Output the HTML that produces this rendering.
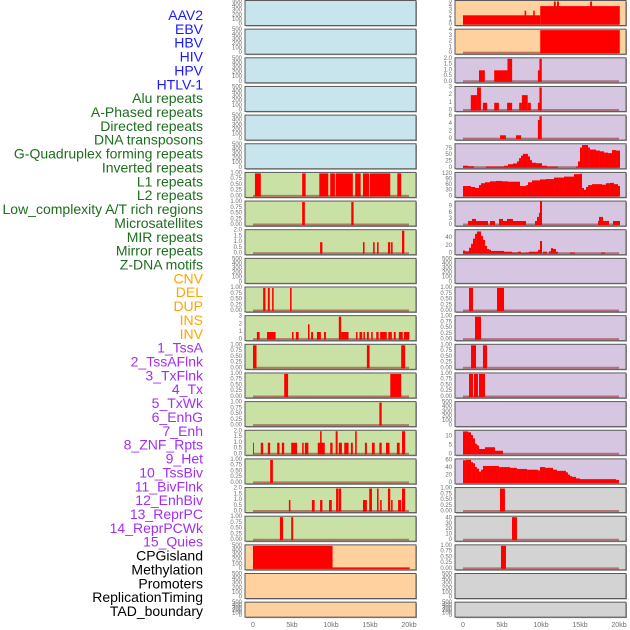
<!DOCTYPE html>
<html><head><meta charset="utf-8">
<style>
html,body{margin:0;padding:0;background:#fff;}
svg{display:block;font-family:"Liberation Sans",sans-serif;}
</style></head>
<body>
<svg id="chart" width="630" height="630" viewBox="0 0 630 630" xmlns="http://www.w3.org/2000/svg">
<g id="labels"></g>
<g id="panels"></g>
<g id="xaxes"></g>
</svg>
<script>
// ---------- labels ----------
const trackLabels = ["AAV2","EBV","HBV","HIV","HPV","HTLV-1","Alu repeats","A-Phased repeats","Directed repeats","DNA transposons","G-Quadruplex forming repeats","Inverted repeats","L1 repeats","L2 repeats","Low_complexity A/T rich regions","Microsatellites","MIR repeats","Mirror repeats","Z-DNA motifs","CNV","DEL","DUP","INS","INV","1_TssA","2_TssAFlnk","3_TxFlnk","4_Tx","5_TxWk","6_EnhG","7_Enh","8_ZNF_Rpts","9_Het","10_TssBiv","11_BivFlnk","12_EnhBiv","13_ReprPC","14_ReprPCWk","15_Quies","CPGisland","Methylation","Promoters","ReplicationTiming","TAD_boundary"];
const labelGroups = ["blue","blue","blue","blue","blue","blue","green","green","green","green","green","green","green","green","green","green","green","green","green","orange","orange","orange","orange","orange","purple","purple","purple","purple","purple","purple","purple","purple","purple","purple","purple","purple","purple","purple","purple","black","black","black","black","black"];

// ---------- tick arrays ----------
const t500=[0,100,200,300,400,500], t1=[0,0.25,0.5,0.75,1], t2=[0,0.5,1,1.5,2], t3=[0,1,2,3];
const t5=[0,1,2,3,4,5], t4=[0,1,2,3,4], t6=[0,2,4,6], tGQ=[0,25,50,75], tL1=[0,30,60,90,120];
const tLC=[0,3,6,9], tMIR=[0,20,40], tZNF=[0,5,10], tHET=[0,20,40,60], tRP=[0,10,20,30,40];
const xTicks=[0,5,10,15,20], xTickLabels=["0","5kb","10kb","15kb","20kb"];

// ---------- left column data: [startKb, endKb, value] ----------
const L6=[[0.25,1,1],[6.3,6.75,1],[8.5,9.65,1],[9.9,10.5,1],[10.6,12.8,1],[13.1,13.8,1],[14.1,14.9,1],[15.0,17.6,1],[18.5,19.0,1]];
const L7=[[6.3,6.65,1],[12.6,12.9,1]];
const L8=[[8.6,8.9,1],[14.1,14.3,1],[15.4,15.6,1],[15.9,16.1,1],[17.3,17.6,1],[17.7,17.9,1],[19.1,19.4,2]];
const L10=[[1.3,1.6,1],[1.9,2.15,1],[2.45,2.65,1],[4.75,4.95,1]];
const L11=[[0.5,0.85,1],[1.8,2.9,1],[5.0,5.2,1],[5.5,5.85,1],[7.05,7.25,2],[7.45,7.7,1],[8.2,8.7,1],[9.1,9.35,1],[11.0,11.3,3],[11.3,12.25,1],[13.2,13.4,1],[13.65,14.0,1],[14.15,14.35,1],[14.6,14.85,1],[15.15,15.35,1],[15.8,16.1,1],[16.3,17.15,1],[17.35,17.8,1],[18.05,18.3,1],[18.7,19.2,1],[19.35,20.05,1]];
const L12=[[0,0.45,1],[14.6,14.95,1],[19.0,19.5,1]];
const L13=[[4.0,4.5,1],[17.6,19.0,1]];
const L14=[[16.2,16.5,1]];
const L15=[[0,0.12,1],[1.0,1.3,1],[1.9,2.2,1],[3.1,3.4,1],[3.7,4.0,1],[4.9,5.65,1],[6.3,6.5,1],[6.65,7.1,1],[8.3,9.2,1],[8.6,8.8,2],[9.9,10.2,1],[10.6,10.85,2],[11.0,11.4,1],[11.7,12.25,1],[12.55,12.8,1],[13.1,13.3,2],[14.35,14.6,1],[15.25,15.6,1],[16.2,16.5,1],[17.05,17.5,1],[18.45,18.8,1],[19.1,19.5,2]];
const L16=[[2.2,2.55,1]];
const L17=[[4.6,4.8,1],[7.55,7.9,1],[8.6,8.9,1],[9.75,10.1,1],[10.65,10.95,2],[11.0,11.3,2],[14.1,14.6,1],[14.9,15.25,2],[15.9,16.1,2],[16.3,16.5,1],[17.3,17.6,2],[17.7,17.9,1],[18.6,19.0,1],[19.1,19.5,2]];
const L18=[[3.45,3.85,1],[4.9,5.15,1]];
const L19=[[0,10.2,500],[10.2,20.1,30]];

// ---------- right column data ----------
const R0=[[0,9.9,2],[7.9,8.1,3],[9.0,9.2,3],[9.9,20.1,4],[11.65,11.9,5],[12.05,12.3,5],[16.3,16.55,5]];
const R1=[[9.9,20.1,4]];
const R2=[[2.05,2.8,1],[4.0,5.7,1],[5.7,6.3,2],[9.6,9.9,1],[9.8,10.1,2]];
const R3=[[1.0,1.8,2],[1.8,2.3,3],[2.55,3.1,1],[4.0,4.6,1],[5.65,6.3,1],[7.2,7.55,1],[7.55,8.3,2],[8.3,8.7,1],[9.6,9.85,1],[9.8,10.1,3]];
const R4=[[4.75,5.5,1],[6.8,7.45,1],[9.6,9.85,5],[9.8,10.1,6]];
const gqStarts=[0,0.64,1.41,2.95,5.26,5.77,6.41,6.92,7.18,7.44,7.69,8.33,8.59,8.85,9.36,10.13,10.77,12.18,14.49,14.74,15.0,15.26,15.51,16.03,16.28,17.05,17.56,18.08,18.59,19.10,19.62];
const gqValues=[8,6,0,5,8,14,17,25,38,48,55,45,30,20,18,8,5,0,5,25,80,90,90,80,72,68,65,60,58,70,68];
const l1Starts=[0,1.03,1.54,2.05,2.31,2.82,3.46,4.23,5.0,5.77,7.31,8.08,8.33,8.85,9.87,10.64,11.67,12.95,14.23,15.0,15.26,15.51,15.77,16.03,16.54,17.82,18.33,18.85,19.36,19.87];
const l1Values=[55,50,45,60,70,75,80,82,80,78,55,60,75,85,90,92,100,105,118,120,45,35,50,60,65,62,70,72,65,55];
const lcStarts=[0,0.64,1.15,1.67,3.21,3.46,4.10,4.62,5.13,5.64,6.41,8.08,9.23,9.49,9.74,9.87,10.13,17.31,17.44,17.95,18.72,19.23];
const lcValues=[0,2,3,2,0,2,0,3,2,3,2,0,2,4,6,12,0,2,4,2,0,2];
const mirStarts=[0,0.26,0.77,1.03,1.28,1.54,1.79,2.31,2.56,2.82,3.08,3.33,3.59,4.23,5.26,6.28,7.05,7.44,7.95,8.46,9.62,9.87,10.13,10.26,10.77,11.03,11.28,11.54,11.92,12.18,13.72,14.36,17.69,18.21];
const mirValues=[8,6,15,25,38,50,56,45,35,20,12,10,7,7,5,3,5,2,3,5,10,32,0,5,0,6,14,12,5,0,3,0,3,0];
const R10=[[0.77,1.28,1],[4.36,5.26,1]];
const R11=[[1.54,2.31,1]];
const R12=[[1.03,1.67,1],[2.56,3.08,1]];
const R13=[[0.77,1.28,1],[1.41,1.92,1],[2.05,2.82,1]];
const znfStarts=[0,0.64,1.03,1.28,1.54,1.79,2.05,2.82,4.10,5.13];
const znfValues=[13,12.5,11,9,6,5,3,4,2,0];
const hetStarts=[0,0.38,1.03,1.28,1.54,1.79,2.05,2.31,2.56,4.62,6.03,6.92,8.21,9.62,9.87,10.51,11.54,12.05,13.21,13.46,13.72,13.97,14.49,15.0,19.62];
const hetValues=[60,61,55,52,42,38,30,35,45,42,40,37,35,33,42,40,35,32,28,22,18,16,12,10,8];
const R17=[[4.74,5.38,1]];
const R18=[[6.28,6.92,42]];
const R19=[[4.87,5.51,1]];

function steps(starts, values, end){
  const out=[];
  for(let i=0;i<starts.length;i++){
    const e = i+1<starts.length ? starts[i+1] : end;
    out.push([starts[i], e, values[i]]);
  }
  return out;
}

const BLUE="#c8e4ec", GREEN="#c9e1a4", PEACH="#ffd19f", LAV="#d7c6e2", GRAY="#d3d3d3";
// layout: [col,row,bg,ymax,ticks,decimals,data]
const layout=[
 [0,0,BLUE,500,t500,0,null],[0,1,BLUE,500,t500,0,null],[0,2,BLUE,500,t500,0,null],
 [0,3,BLUE,500,t500,0,null],[0,4,BLUE,500,t500,0,null],[0,5,BLUE,500,t500,0,null],
 [0,6,GREEN,1,t1,2,L6],[0,7,GREEN,1,t1,2,L7],[0,8,GREEN,2,t2,1,L8],[0,9,GREEN,500,t500,0,null],
 [0,10,GREEN,1,t1,2,L10],[0,11,GREEN,3,t3,0,L11],[0,12,GREEN,1,t1,2,L12],[0,13,GREEN,1,t1,2,L13],
 [0,14,GREEN,1,t1,2,L14],[0,15,GREEN,2,t2,1,L15],[0,16,GREEN,1,t1,2,L16],[0,17,GREEN,2,t2,1,L17],
 [0,18,GREEN,1,t1,2,L18],[0,19,PEACH,500,t500,0,L19],[0,20,PEACH,500,t500,0,null],[0,21,PEACH,500,t500,0,null],
 [1,0,PEACH,5,t5,0,R0],[1,1,PEACH,4,t4,0,R1],[1,2,LAV,2,t2,1,R2],[1,3,LAV,3,t3,0,R3],[1,4,LAV,6,t6,0,R4],
 [1,5,LAV,91,tGQ,0,steps(gqStarts,gqValues,20.13)],[1,6,LAV,122,tL1,0,steps(l1Starts,l1Values,20.13)],
 [1,7,LAV,11.3,tLC,0,steps(lcStarts,lcValues,20.13)],[1,8,LAV,58,tMIR,0,steps(mirStarts,mirValues,20.0)],
 [1,9,LAV,500,t500,0,null],[1,10,LAV,1,t1,2,R10],[1,11,LAV,1,t1,2,R11],[1,12,LAV,1,t1,2,R12],[1,13,LAV,1,t1,2,R13],
 [1,14,LAV,500,t500,0,null],[1,15,LAV,13.1,tZNF,0,steps(znfStarts,znfValues,20.0)],
 [1,16,LAV,61,tHET,0,steps(hetStarts,hetValues,20.0)],[1,17,GRAY,1,t1,2,R17],[1,18,GRAY,42,tRP,0,R18],
 [1,19,GRAY,1,t1,2,R19],[1,20,GRAY,500,t500,0,null],[1,21,GRAY,500,t500,0,null]
];

const NS="http://www.w3.org/2000/svg";
function mk(tag, attrs, parent){
  const e=document.createElementNS(NS,tag);
  for(const k in attrs) e.setAttribute(k, attrs[k]);
  parent.appendChild(e); return e;
}
const colX0=[253,463], pxPerKb=7.8, boxL=[245,455], boxW=171;
function xScale(col,kb){ return colX0[col]+kb*pxPerKb; }

// labels
const labelColors={blue:"#1a1aff",green:"#1d6e1d",orange:"#ffa500",purple:"#a22ff0",black:"#000"};
const lg=document.getElementById('labels');
// 44 labels? keep only the 35 visible positions (uses whole list spacing)
const visible=["AAV2","EBV","HBV","HIV","HPV","HTLV-1","Alu repeats","A-Phased repeats","Directed repeats","DNA transposons","G-Quadruplex forming repeats","Inverted repeats","L1 repeats","L2 repeats","Low_complexity A/T rich regions","Microsatellites","MIR repeats","Mirror repeats","Z-DNA motifs","CNV","DEL","DUP","INS","INV","1_TssA","2_TssAFlnk","3_TxFlnk","4_Tx","5_TxWk","6_EnhG","7_Enh","8_ZNF_Rpts","9_Het","10_TssBiv","11_BivFlnk","12_EnhBiv","13_ReprPC","14_ReprPCWk","15_Quies","CPGisland","Methylation","Promoters","ReplicationTiming","TAD_boundary"];
const n=visible.length;
const pitch=(611-15)/(n-1);
visible.forEach((t,i)=>{
  const el=mk('text',{x:203,y:(15+pitch*i).toFixed(1),'text-anchor':'end','dominant-baseline':'central','font-size':14,fill:labelColors[labelGroups[i]]},lg);
  el.textContent=t;
  
  
});

// panels
const pg=document.getElementById('panels');
layout.forEach(([col,row,bg,ymax,ticks,dec,data])=>{
  const top=0.5+28.65*row;
  const h= row===21?15:25;
  const bx=boxL[col];
  const g=mk('g',{},pg);
  
  
  const clipId='c'+col+'_'+row;
  const cp=mk('clipPath',{id:clipId},g);
  mk('rect',{x:bx,y:top,width:boxW,height:h},cp);
  mk('rect',{x:bx+1,y:top+1,width:boxW,height:h,fill:"#9a9a9a"},g);
  mk('rect',{x:bx,y:top,width:boxW,height:h,fill:bg},g);
  const y0=top+h-1, y1=top+1;
  const yScale=v=>y0-(v/ymax)*(y0-y1);
  // ticks
  ticks.forEach(tv=>{
    const t=mk('text',{x:col?452:242,y:yScale(tv).toFixed(1),'text-anchor':'end','dominant-baseline':'central','font-size':6,fill:"#6e6e6e"},g);
    t.textContent= dec? tv.toFixed(dec) : String(tv);
    
    
  });
  if(data){
    const dg=mk('g',{'clip-path':'url(#'+clipId+')'},g);
    mk('line',{x1:xScale(col,0),x2:xScale(col,20),y1:y0-0.5,y2:y0-0.5,stroke:"rgba(150,40,40,0.55)","stroke-width":2},dg);
    data.forEach(([s,e,v])=>{
      if(v<=0) return;
      const r=mk('rect',{x:xScale(col,s).toFixed(2),y:yScale(v).toFixed(2),width:Math.max(0.8,xScale(col,e)-xScale(col,s)).toFixed(2),height:(y0-yScale(v)).toFixed(2),fill:"#ff0000"},dg);
      
      
    });
  }
  mk('rect',{x:bx,y:top,width:boxW,height:h,fill:"none",stroke:"#5a5a5a","stroke-width":1},g);
});

// x axes
const xg=document.getElementById('xaxes');
[0,1].forEach(col=>{
  xTicks.forEach((kb,i)=>{
    const t=mk('text',{x:xScale(col,kb),y:627,'text-anchor':'middle','font-size':7,fill:"#6e6e6e"},xg);
    t.textContent=xTickLabels[i];
    
    
  });
});
</script>
</body></html>
